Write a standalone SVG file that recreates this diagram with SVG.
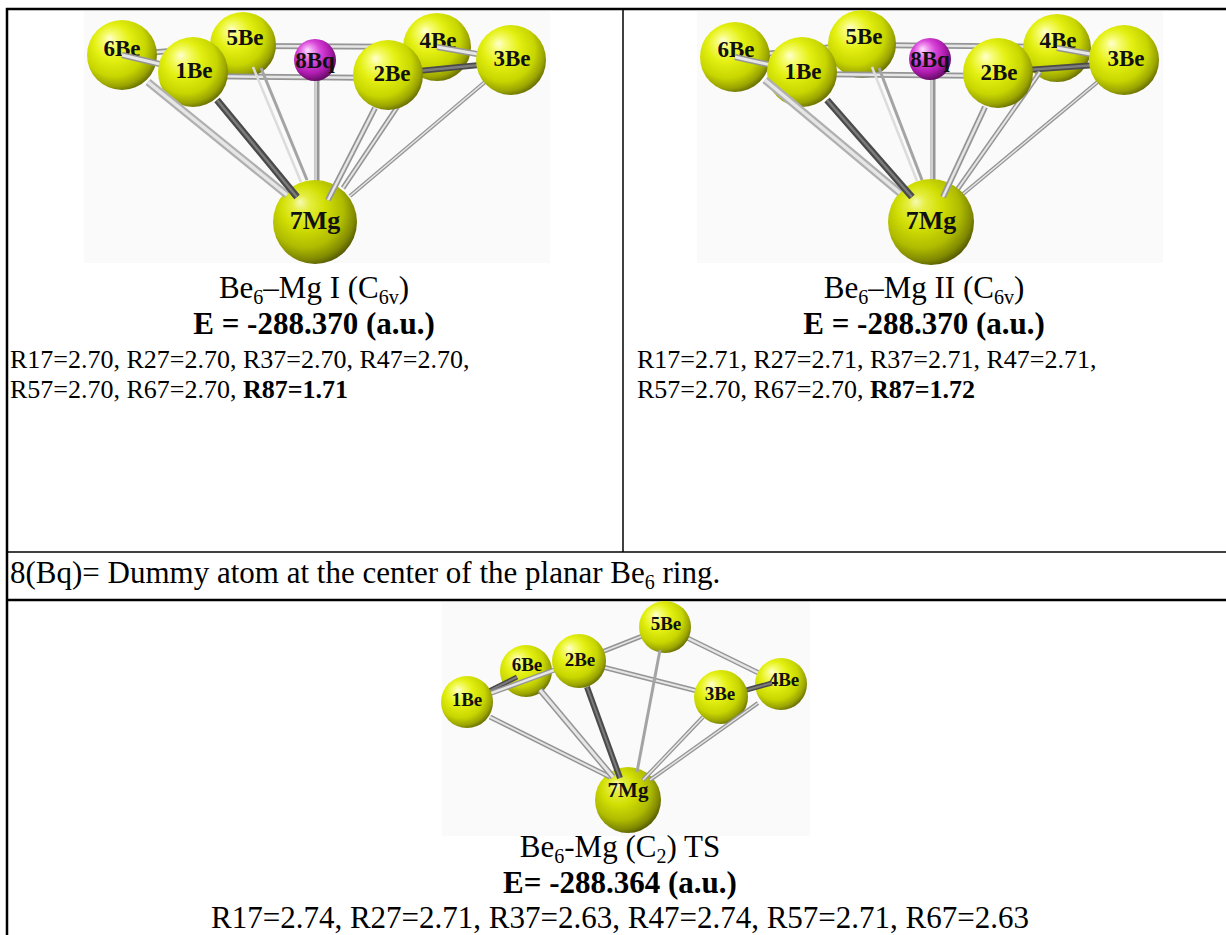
<svg xmlns="http://www.w3.org/2000/svg" width="1226" height="935" viewBox="0 0 1226 935">
  <defs>
    <style>
      .t { font-family: "Liberation Serif", "Times New Roman", serif; font-size: 31px; fill: #000; }
      .r { font-size: 26px; }
      .b { font-weight: bold; }
      .sub { font-size: 20px; }
      .lbl { font-family: "Liberation Serif", "Times New Roman", serif; font-weight: bold; font-size: 23px; text-anchor: middle; fill: #111; }
      .lbl-mg { font-size: 26px; }
      .lbl-s { font-size: 19px; }
      .lbl-mgs { font-size: 21px; }
      .grid { stroke: #000; fill: none; }
      .pic { fill: #fafafa; }
      line { stroke-linecap: butt; }
      .rim { stroke: #959595; }
      .rim-l { stroke: #b0b0b0; }
      .rim-d { stroke: #4a4a4a; }
      .core { stroke: #e6e6e6; }
      .core-d { stroke: #7c7c7c; }
      .thin { stroke: #dcdcdc; }
      .thin-g { stroke: #a4a4a4; }
      .be { fill: url(#gBe); }
      .mg { fill: url(#gMg); }
      .bq { fill: url(#gBq); }
    </style>
    <radialGradient id="gBe" cx="0.42" cy="0.4" r="0.64" fx="0.32" fy="0.26">
      <stop offset="0" stop-color="#ffffd2"/>
      <stop offset="0.15" stop-color="#f6fc72"/>
      <stop offset="0.4" stop-color="#e4f012"/>
      <stop offset="0.7" stop-color="#c8d600"/>
      <stop offset="0.88" stop-color="#9aa400"/>
      <stop offset="1" stop-color="#5e6400"/>
    </radialGradient>
    <radialGradient id="gMg" cx="0.42" cy="0.4" r="0.64" fx="0.32" fy="0.26">
      <stop offset="0" stop-color="#f6f9b8"/>
      <stop offset="0.15" stop-color="#e6ef44"/>
      <stop offset="0.4" stop-color="#d2df04"/>
      <stop offset="0.7" stop-color="#afbb00"/>
      <stop offset="0.88" stop-color="#818a00"/>
      <stop offset="1" stop-color="#4c5100"/>
    </radialGradient>
    <radialGradient id="gBq" cx="0.42" cy="0.4" r="0.64" fx="0.32" fy="0.26">
      <stop offset="0" stop-color="#ffe2ff"/>
      <stop offset="0.18" stop-color="#f094f0"/>
      <stop offset="0.42" stop-color="#d844d8"/>
      <stop offset="0.72" stop-color="#b01cb0"/>
      <stop offset="1" stop-color="#5a0a5a"/>
    </radialGradient>
  </defs>

  <rect width="1226" height="935" fill="#fff"/>

  <!-- picture backgrounds -->
  <rect class="pic" x="84" y="11" width="466" height="252"/>
  <rect class="pic" x="697" y="11" width="466" height="252"/>
  <rect class="pic" x="442" y="602" width="368" height="234"/>

  <!-- table rules -->
  <g id="table">
    <line class="grid" x1="6" y1="9" x2="1226" y2="9" stroke-width="2.5"/>
    <line class="grid" x1="7" y1="8" x2="7" y2="935" stroke-width="2.5"/>
    <line class="grid" x1="623" y1="9" x2="623" y2="552" stroke-width="1.5"/>
    <line class="grid" x1="7" y1="552" x2="1226" y2="552" stroke-width="1.5"/>
    <line class="grid" x1="7" y1="600" x2="1226" y2="600" stroke-width="2.5"/>
  </g>

  <!-- ===== Be6-Mg I (C6v) ===== -->
  <g id="mol-I">
    <g id="I-bonds-rear">
      <line class="rim" x1="122" y1="55" x2="243" y2="45" stroke-width="6"/>
      <line class="core" x1="122" y1="55" x2="243" y2="45" stroke-width="2.5"/>
      <line class="rim" x1="243" y1="46" x2="437" y2="47" stroke-width="6"/>
      <line class="core" x1="243" y1="46" x2="437" y2="47" stroke-width="2.5"/>
    </g>
    <g id="I-Be6"><circle class="be" cx="122" cy="55" r="35"/><text class="lbl" x="122" y="56">6Be</text></g>
    <g id="I-Be5"><circle class="be" cx="243" cy="45" r="33"/><text class="lbl" x="245" y="45">5Be</text></g>
    <g id="I-Be4"><circle class="be" cx="437" cy="47" r="34"/><text class="lbl" x="438" y="48">4Be</text></g>
    <g id="I-bonds-mid">
      <line class="rim" x1="437" y1="47" x2="511" y2="60" stroke-width="6"/>
      <line class="core" x1="437" y1="47" x2="511" y2="60" stroke-width="3"/>
      <line class="rim-d" x1="388" y1="74" x2="511" y2="62" stroke-width="6"/>
      <line class="core-d" x1="388" y1="74" x2="511" y2="62" stroke-width="2.5"/>
      <line class="rim" x1="122" y1="55" x2="193" y2="72" stroke-width="6"/>
      <line class="core" x1="122" y1="55" x2="193" y2="72" stroke-width="3"/>
      <line class="rim" x1="193" y1="76" x2="388" y2="78" stroke-width="6"/>
      <line class="core" x1="193" y1="76" x2="388" y2="78" stroke-width="2.5"/>
      <line class="thin" x1="253" y1="67" x2="301" y2="182" stroke-width="2.5"/>
      <line class="thin-g" x1="261" y1="68" x2="307" y2="180" stroke-width="3"/>
      <line class="rim" x1="317" y1="72" x2="317" y2="181" stroke-width="5"/>
      <line class="core" x1="316" y1="72" x2="316" y2="181" stroke-width="1.5"/>
      <line class="rim" x1="418" y1="76" x2="343" y2="188" stroke-width="5"/>
      <line class="core" x1="418" y1="76" x2="343" y2="188" stroke-width="2"/>
      <line class="rim" x1="511" y1="60" x2="350" y2="196" stroke-width="4"/>
      <line class="core" x1="511" y1="60" x2="350" y2="196" stroke-width="1.5"/>
    </g>
    <g id="I-Bq8"><circle class="bq" cx="315" cy="60" r="21"/><text class="lbl" x="315" y="68" font-size="21">8Bq</text></g>
    <g id="I-Be3"><circle class="be" cx="511" cy="60" r="35"/><text class="lbl" x="512" y="66">3Be</text></g>
    <g id="I-Be1"><circle class="be" cx="193" cy="72" r="35"/><text class="lbl" x="194" y="78">1Be</text></g>
    <g id="I-Be2"><circle class="be" cx="388" cy="75" r="35"/><text class="lbl" x="392" y="81">2Be</text></g>
    <g id="I-Mg7"><circle class="mg" cx="315" cy="222" r="42"/><text class="lbl lbl-mg" x="315" y="229">7Mg</text></g>
    <g id="I-bonds-front">
      <line class="rim-l" x1="148" y1="82" x2="287" y2="195" stroke-width="8"/>
      <line class="core" x1="148" y1="82" x2="287" y2="195" stroke-width="3.5"/>
      <line class="rim-d" x1="217" y1="100" x2="297" y2="197" stroke-width="7"/>
      <line class="core-d" x1="217" y1="100" x2="297" y2="197" stroke-width="2.5"/>
      <line class="rim" x1="375" y1="108" x2="328" y2="200" stroke-width="6"/>
      <line class="core" x1="375" y1="108" x2="328" y2="200" stroke-width="2.5"/>
    </g>
  </g>

  <!-- ===== Be6-Mg II (C6v) ===== -->
  <g id="mol-II">
    <g id="II-bonds-rear">
      <line class="rim" x1="735" y1="57" x2="862" y2="44" stroke-width="6"/>
      <line class="core" x1="735" y1="57" x2="862" y2="44" stroke-width="2.5"/>
      <line class="rim" x1="862" y1="45" x2="1057" y2="47" stroke-width="6"/>
      <line class="core" x1="862" y1="45" x2="1057" y2="47" stroke-width="2.5"/>
    </g>
    <g id="II-Be6"><circle class="be" cx="735" cy="57" r="35"/><text class="lbl" x="736" y="57">6Be</text></g>
    <g id="II-Be5"><circle class="be" cx="862" cy="44" r="34"/><text class="lbl" x="864" y="44">5Be</text></g>
    <g id="II-Be4"><circle class="be" cx="1057" cy="48" r="34"/><text class="lbl" x="1058" y="48">4Be</text></g>
    <g id="II-bonds-mid">
      <line class="rim" x1="1057" y1="48" x2="1124" y2="60" stroke-width="6"/>
      <line class="core" x1="1057" y1="48" x2="1124" y2="60" stroke-width="3"/>
      <line class="rim-d" x1="998" y1="72" x2="1124" y2="63" stroke-width="6"/>
      <line class="core-d" x1="998" y1="72" x2="1124" y2="63" stroke-width="2.5"/>
      <line class="rim" x1="735" y1="57" x2="802" y2="72" stroke-width="6"/>
      <line class="core" x1="735" y1="57" x2="802" y2="72" stroke-width="3"/>
      <line class="rim" x1="802" y1="74" x2="998" y2="76" stroke-width="6"/>
      <line class="core" x1="802" y1="74" x2="998" y2="76" stroke-width="2.5"/>
      <line class="thin" x1="872" y1="67" x2="917" y2="181" stroke-width="2.5"/>
      <line class="thin-g" x1="879" y1="68" x2="922" y2="180" stroke-width="3"/>
      <line class="rim" x1="933" y1="72" x2="933" y2="181" stroke-width="5"/>
      <line class="core" x1="932" y1="72" x2="932" y2="181" stroke-width="1.5"/>
      <line class="rim" x1="1040" y1="72" x2="957" y2="190" stroke-width="5"/>
      <line class="core" x1="1040" y1="72" x2="957" y2="190" stroke-width="2"/>
      <line class="rim" x1="1124" y1="60" x2="963" y2="194" stroke-width="4"/>
      <line class="core" x1="1124" y1="60" x2="963" y2="194" stroke-width="1.5"/>
    </g>
    <g id="II-Bq8"><circle class="bq" cx="930" cy="59" r="21"/><text class="lbl" x="930" y="67" font-size="21">8Bq</text></g>
    <g id="II-Be3"><circle class="be" cx="1124" cy="60" r="35"/><text class="lbl" x="1126" y="66">3Be</text></g>
    <g id="II-Be1"><circle class="be" cx="802" cy="72" r="35"/><text class="lbl" x="803" y="79">1Be</text></g>
    <g id="II-Be2"><circle class="be" cx="998" cy="73" r="35"/><text class="lbl" x="999" y="80">2Be</text></g>
    <g id="II-Mg7"><circle class="mg" cx="931" cy="222" r="43"/><text class="lbl lbl-mg" x="931" y="229">7Mg</text></g>
    <g id="II-bonds-front">
      <line class="rim-l" x1="765" y1="80" x2="900" y2="193" stroke-width="8"/>
      <line class="core" x1="765" y1="80" x2="900" y2="193" stroke-width="3.5"/>
      <line class="rim-d" x1="827" y1="100" x2="912" y2="197" stroke-width="7"/>
      <line class="core-d" x1="827" y1="100" x2="912" y2="197" stroke-width="2.5"/>
      <line class="rim" x1="985" y1="107" x2="943" y2="197" stroke-width="6"/>
      <line class="core" x1="985" y1="107" x2="943" y2="197" stroke-width="2.5"/>
    </g>
  </g>

  <!-- ===== Be6-Mg (C2) TS ===== -->
  <g id="mol-TS">
    <g id="TS-bonds-rear">
      <line class="rim" x1="579" y1="661" x2="665" y2="627" stroke-width="5"/>
      <line class="core" x1="579" y1="661" x2="665" y2="627" stroke-width="1.5"/>
      <line class="rim" x1="665" y1="627" x2="781" y2="684" stroke-width="5"/>
      <line class="core" x1="665" y1="627" x2="781" y2="684" stroke-width="2.5"/>
      <line class="rim" x1="579" y1="661" x2="721" y2="697" stroke-width="5"/>
      <line class="core" x1="579" y1="661" x2="721" y2="697" stroke-width="2"/>
    </g>
    <g id="TS-Be5"><circle class="be" cx="665" cy="627" r="26"/><text class="lbl lbl-s" x="666" y="630">5Be</text></g>
    <g id="TS-Be6"><circle class="be" cx="526" cy="671" r="26"/><text class="lbl lbl-s" x="527" y="671">6Be</text></g>
    <g id="TS-Be4"><circle class="be" cx="781" cy="684" r="26"/><text class="lbl lbl-s" x="784" y="686">4Be</text></g>
    <g id="TS-bonds-mid">
      <line class="rim-d" x1="467" y1="702" x2="517" y2="677" stroke-width="5"/>
      <line class="core-d" x1="467" y1="702" x2="517" y2="677" stroke-width="2"/>
      <line class="rim" x1="467" y1="702" x2="579" y2="661" stroke-width="5"/>
      <line class="core" x1="467" y1="702" x2="579" y2="661" stroke-width="2.5"/>
      <line class="rim-d" x1="721" y1="697" x2="772" y2="683" stroke-width="5"/>
      <line class="core-d" x1="721" y1="697" x2="772" y2="683" stroke-width="2"/>
    </g>
    <g id="TS-Be2"><circle class="be" cx="579" cy="661" r="27"/><text class="lbl lbl-s" x="580" y="666">2Be</text></g>
    <g id="TS-Be1"><circle class="be" cx="467" cy="702" r="26"/><text class="lbl lbl-s" x="467" y="706">1Be</text></g>
    <g id="TS-Be3"><circle class="be" cx="721" cy="697" r="27"/><text class="lbl lbl-s" x="720" y="700">3Be</text></g>
    <g id="TS-Mg7"><circle class="mg" cx="628" cy="800" r="33"/><text class="lbl lbl-mgs" x="628" y="797">7Mg</text></g>
    <g id="TS-bonds-front">
      <line class="rim" x1="490" y1="717" x2="610" y2="777" stroke-width="5"/>
      <line class="core" x1="490" y1="717" x2="610" y2="777" stroke-width="2"/>
      <line class="rim" x1="540" y1="690" x2="613" y2="777" stroke-width="6"/>
      <line class="core" x1="540" y1="690" x2="613" y2="777" stroke-width="3"/>
      <line class="rim-d" x1="587" y1="687" x2="620" y2="778" stroke-width="6"/>
      <line class="core-d" x1="587" y1="687" x2="620" y2="778" stroke-width="2"/>
      <line class="thin-g" x1="660" y1="650" x2="637" y2="772" stroke-width="3"/>
      <line class="rim" x1="703" y1="717" x2="643" y2="780" stroke-width="4"/>
      <line class="core" x1="703" y1="717" x2="643" y2="780" stroke-width="1.5"/>
      <line class="rim" x1="758" y1="703" x2="650" y2="780" stroke-width="4"/>
      <line class="core" x1="758" y1="703" x2="650" y2="780" stroke-width="1.5"/>
    </g>
  </g>

  <!-- captions, left cell -->
  <g id="cap-I">
    <text class="t" x="314" y="298" text-anchor="middle">Be<tspan class="sub" dy="6">6</tspan><tspan dy="-6">–Mg I (C</tspan><tspan class="sub" dy="6">6v</tspan><tspan dy="-6">)</tspan></text>
    <text class="t b" x="314" y="334" text-anchor="middle">E = -288.370 (a.u.)</text>
    <text class="t r" x="10" y="368">R17=2.70, R27=2.70, R37=2.70, R47=2.70,</text>
    <text class="t r" x="10" y="398">R57=2.70, R67=2.70, <tspan class="b">R87=1.71</tspan></text>
  </g>

  <!-- captions, right cell -->
  <g id="cap-II">
    <text class="t" x="924" y="298" text-anchor="middle">Be<tspan class="sub" dy="6">6</tspan><tspan dy="-6">–Mg II (C</tspan><tspan class="sub" dy="6">6v</tspan><tspan dy="-6">)</tspan></text>
    <text class="t b" x="924" y="334" text-anchor="middle">E = -288.370 (a.u.)</text>
    <text class="t r" x="637" y="368">R17=2.71, R27=2.71, R37=2.71, R47=2.71,</text>
    <text class="t r" x="637" y="398">R57=2.70, R67=2.70, <tspan class="b">R87=1.72</tspan></text>
  </g>

  <!-- note row -->
  <text id="note" class="t" x="10" y="583">8(Bq)= Dummy atom at the center of the planar Be<tspan class="sub" dy="6">6</tspan><tspan dy="-6"> ring.</tspan></text>

  <!-- captions, transition state -->
  <g id="cap-TS">
    <text class="t" x="620" y="857" text-anchor="middle">Be<tspan class="sub" dy="6">6</tspan><tspan dy="-6">-Mg (C</tspan><tspan class="sub" dy="6">2</tspan><tspan dy="-6">) TS</tspan></text>
    <text class="t b" x="620" y="893" text-anchor="middle">E= -288.364 (a.u.)</text>
    <text class="t" x="620" y="928" text-anchor="middle">R17=2.74, R27=2.71, R37=2.63, R47=2.74, R57=2.71, R67=2.63</text>
  </g>
</svg>
